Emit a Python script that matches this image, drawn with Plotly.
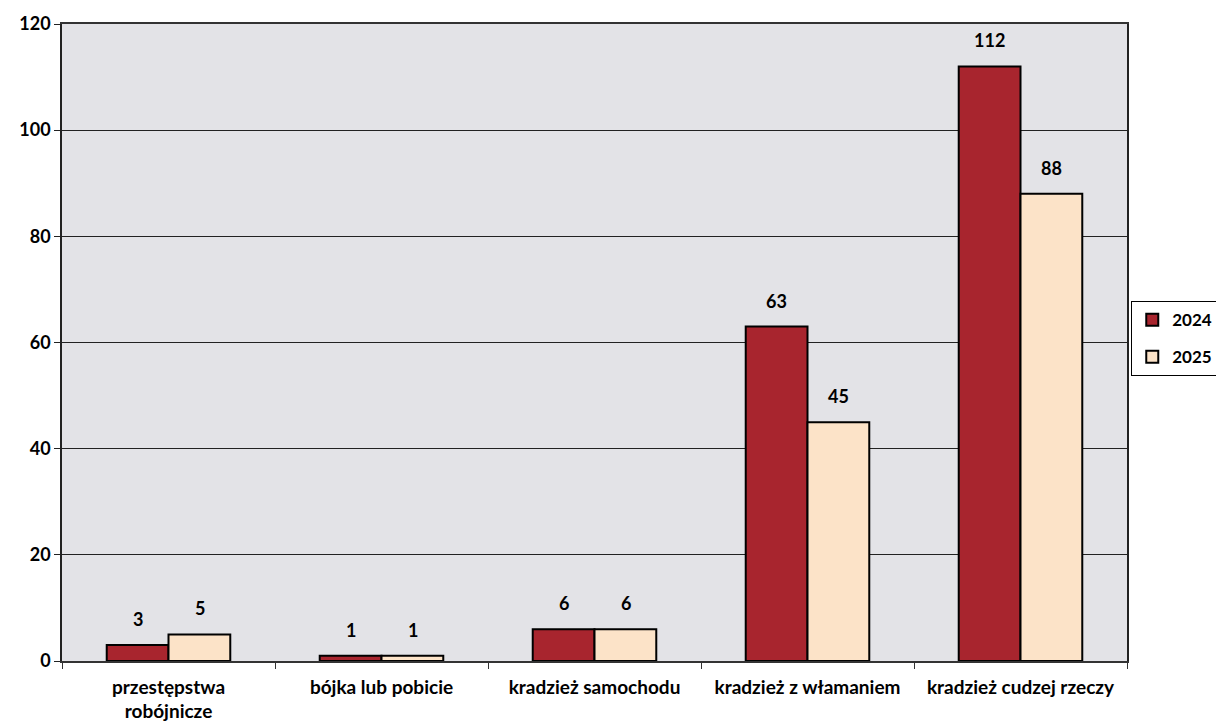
import plotly.graph_objects as go

categories = ["przestępstwa<br>robójnicze", "bójka lub pobicie", "kradzież samochodu",
              "kradzież z włamaniem", "kradzież cudzej rzeczy"]
years = ["2024", "2025"]
values_2024 = [3, 1, 6, 63, 112]
values_2025 = [5, 1, 6, 45, 88]

FONT = "Lato, 'Open Sans', sans-serif"
colors = {"2024": "#A8252E", "2025": "#FCE3C8"}
shift = {"2024": -31, "2025": 31}   # half bar width in px, for value labels

fig = go.Figure()
for yr, vals in zip(years, [values_2024, values_2025]):
    fig.add_trace(go.Bar(x=categories, y=vals, name=yr,
                         legendgroup=yr,
                         marker=dict(color=colors[yr], line=dict(color="black", width=2))))
    # value labels sit well above the bars, like the original
    for c, v in zip(categories, vals):
        fig.add_annotation(x=c, y=v, text=str(v), showarrow=False,
                           xshift=shift[yr], yshift=13, yanchor="bottom",
                           font=dict(family=FONT, size=18, color="black", weight="bold"))

# page is slightly wider than the window so the legend box runs off the right edge
fig.update_layout(
    width=1240, height=723,
    margin=dict(l=54, r=121, t=16, b=70),
    paper_bgcolor="white", plot_bgcolor="#E3E3E7",
    barmode="group", bargap=0.42, bargroupgap=0,
    font=dict(family=FONT, size=18, color="black"),
    legend=dict(x=1.004, y=0.565, xanchor="left", yanchor="top",
                bordercolor="black", borderwidth=1, bgcolor="white",
                font=dict(family=FONT, size=17, color="black", weight="bold"),
                traceorder="grouped", tracegroupgap=12, itemwidth=30),
)
fig.update_xaxes(showline=True, linecolor="#333", linewidth=1.5, mirror=True,
                 ticks="outside", tickson="boundaries", ticklen=6, tickcolor="#333",
                 automargin=False, ticklabelstandoff=8,
                 tickfont=dict(family=FONT, size=19, color="black", weight="bold"))
fig.update_yaxes(range=[0, 120], dtick=20, showgrid=True, gridcolor="#222", gridwidth=1,
                 showline=True, linecolor="#222", linewidth=1.5, mirror=True,
                 ticks="outside", ticklen=6, tickcolor="#222", zeroline=False,
                 automargin=False,
                 tickfont=dict(family=FONT, size=18, color="black", weight="bold"))

fig.write_html("out.html")
